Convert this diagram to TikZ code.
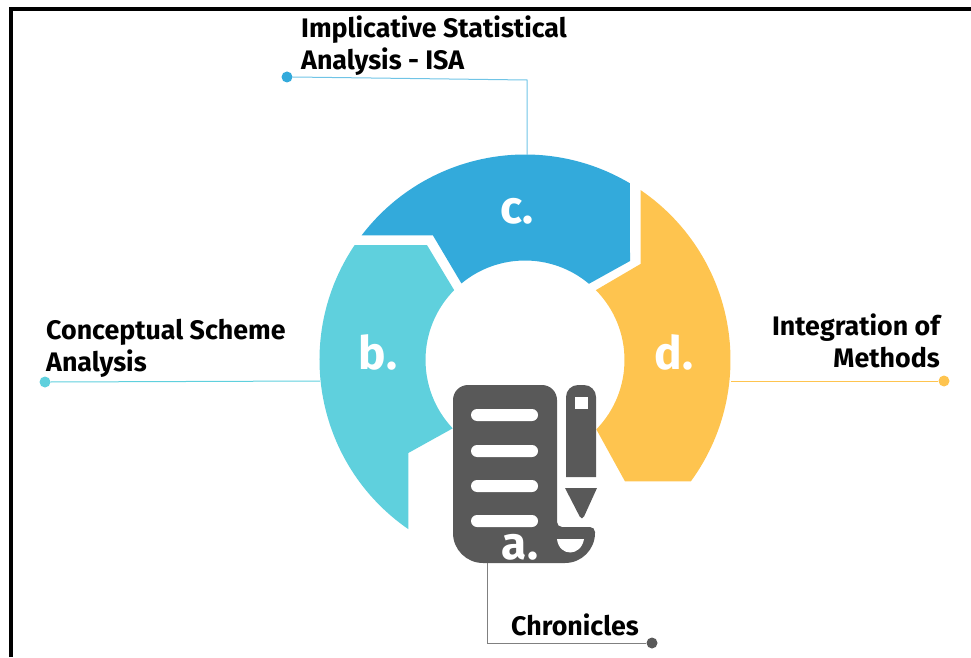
\documentclass[tikz,border=0pt]{standalone}
\usepackage{fontspec}
\setmainfont{Fira Sans}
\usepackage{tikz}
\usetikzlibrary{positioning,calc}
\definecolor{bleu}{HTML}{33AADB}
\definecolor{turquoise}{HTML}{5FD0DD}
\definecolor{jaune}{HTML}{FEC44F}
\definecolor{ardoise}{HTML}{595959}
\tikzstyle{legende}=[inner sep=0pt,font=\fontsize{26.8}{32}\selectfont\bfseries,text=black]
\tikzstyle{lettre}=[inner sep=0pt,font=\fontsize{46}{46}\selectfont\bfseries,text=white]
\tikzstyle{pastille}=[circle,inner sep=0pt,minimum size=11pt]
\tikzstyle{trait}=[line width=1pt]

\begin{document}
\begin{tikzpicture}[x=1pt,y=1pt]
\useasboundingbox (0,0) rectangle (971,657);
\coordinate (O) at (525,297);

\draw[line width=4pt] (11,0)--(11,648)--(971,648);

% les trois secteurs
\fill[bleu] ($(O)+(142.7:205.5pt)$) arc[start angle=142.7,end angle=59.3,radius=205.5pt]--(630,396)--($(O)+(50:99.5pt)$) arc[start angle=50,end angle=129.7,radius=99.5pt]--(433,421.5)--cycle;
\fill[jaune] ($(O)+(55.8:205.5pt)$) arc[start angle=55.8,end angle=-36.2,radius=205.5pt]--(625,175.6)--($(O)+(-44.2:99.5pt)$) arc[start angle=-44.2,end angle=44.6,radius=99.5pt]--(640.5,393)--cycle;
\fill[turquoise] ($(O)+(146:205.5pt)$) arc[start angle=146,end angle=235.4,radius=205.5pt]--(408.3,204)--($(O)+(223.4:99.5pt)$) arc[start angle=223.4,end angle=135.4,radius=99.5pt]--(427,411.9)--cycle;

% le document
\fill[ardoise] (453,180)[rounded corners=30pt]--(453,94)--(595,94)[rounded corners=5pt]--(595,130)--(557,130)[rounded corners=15pt]--(557,272)--(453,272)--cycle;
\foreach \y in {242,206,171,136}
  \fill[white,rounded corners=6pt] (471,\y-6) rectangle (538,\y+6);
\fill[white] (557,118) .. controls (559,100) and (581,100) .. (584,118)--cycle;

% le crayon
\fill[ardoise] (566,180)[rounded corners=12pt]--(566,272)--(596,272)[sharp corners]--(596,180)--cycle;
\fill[white] (575,248) rectangle (588,260);
\fill[ardoise] (565,169)--(597,169)[rounded corners=5pt]--(582,136)[sharp corners]--cycle;

% les lettres
\node[lettre] (La) at (520,110) {a.};
\node[lettre] (Lb) at (378,305) {b.};
\node[lettre] (Lc) at (517,446) {c.};
\node[lettre] (Ld) at (674,305) {d.};

% les legendes
\node[legende,align=left,anchor=west] (Ta) at (511,32) {Chronicles};
\node[legende,align=left,anchor=west] (Tb) at (46,309) {Conceptual Scheme\\Analysis};
\node[legende,align=left,anchor=west] (Tc) at (301,611) {Implicative Statistical\\Analysis - ISA};
\node[legende,align=right,anchor=east] (Td) at (940,316.5) {Integration of\\Methods};

% les traits
\node[pastille,fill=ardoise] (Pa) at (652,14) {};
\node[pastille,fill=turquoise] (Pb) at (45,275) {};
\node[pastille,fill=bleu] (Pc) at (287,580) {};
\node[pastille,fill=jaune] (Pd) at (944,276) {};
\coordinate (Ea) at (487.5,94);
\coordinate (Eb) at (320,276);
\coordinate (Ec) at (527,502);
\coordinate (Cc) at (527,577);
\coordinate (Ed) at (731,276);
\draw[trait,gray] (Ea)|-(Pa.west);
\draw[trait,turquoise] (Eb)--(Pb.east);
\draw[trait,bleu!70] (Ec)--(Cc)--(Pc.east);
\draw[trait,jaune] (Ed)--(Pd.west);

\end{tikzpicture}
\end{document}
